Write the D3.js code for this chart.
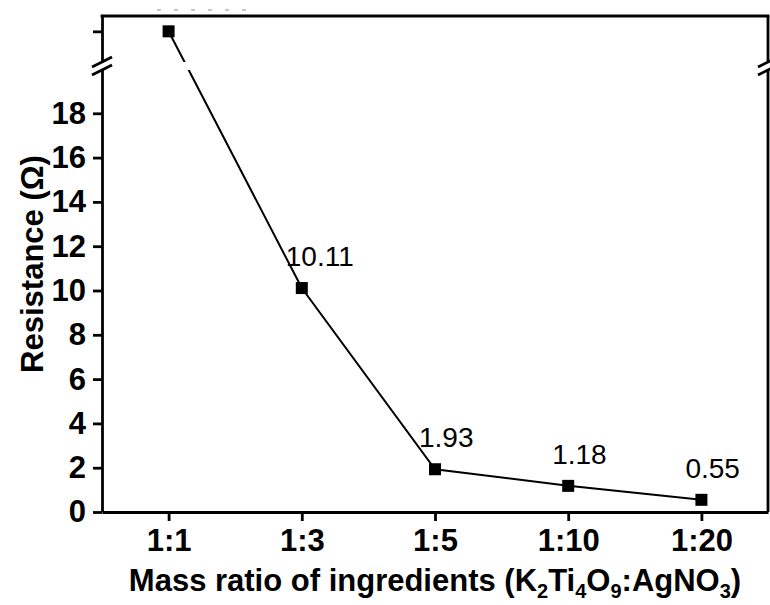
<!DOCTYPE html>
<html>
<head>
<meta charset="utf-8">
<script src="https://cdn.jsdelivr.net/npm/d3@7"></script>
<style>
  body { margin: 0; background: #fff; }
  svg { display: block; font-family: "Liberation Sans", Arial, sans-serif; }
</style>
</head>
<body>
<div id="chart"></div>
<script>
// mass ratios and measured resistance (ohm)
const ratios = ["1:1", "1:3", "1:5", "1:10", "1:20"];
const resistance = [100, 10.11, 1.93, 1.18, 0.55];   // 1:1 sits above the axis break, value not printed
const pointLabels = ["", "10.11", "1.93", "1.18", "0.55"];
const lowerTicks = [0, 2, 4, 6, 8, 10, 12, 14, 16, 18];
const upperTicks = [100];

const width = 770, height = 605;
const margin = {top: 16, right: 2, bottom: 93, left: 102};
const plotRight = width - margin.right, plotBottom = height - margin.bottom;

// broken y axis: lower part 0..20, upper part above the break
const breakLow = 69, breakHigh = 62;

const svg = d3.select("#chart").append("svg")
  .attr("width", width)
  .attr("height", height);

const x = d3.scalePoint()
  .domain(ratios)
  .range([margin.left, plotRight])
  .padding(0.5);

const yLow = d3.scaleLinear().domain([0, 20]).range([plotBottom, breakLow]);
const yUp = d3.scaleLinear().domain([80, 110]).range([breakHigh, margin.top]);
const y = v => v > 20 ? yUp(v) : yLow(v);

// faint dashes at very top (left over from the source figure)
svg.append("line")
  .attr("x1", 157).attr("x2", 247)
  .attr("y1", 10).attr("y2", 10)
  .attr("stroke", "#b5b5b5")
  .attr("stroke-width", 1.5)
  .attr("stroke-dasharray", "4,13");

// axes
const axisW = 2.8;

const gx = svg.append("g")
  .attr("transform", "translate(0," + plotBottom + ")")
  .call(d3.axisBottom(x).tickSize(9).tickSizeOuter(0).tickPadding(8));

const gyLow = svg.append("g")
  .attr("transform", "translate(" + margin.left + ",0)")
  .call(d3.axisLeft(yLow).tickValues(lowerTicks).tickSize(9).tickSizeOuter(0).tickPadding(7));

const gyUp = svg.append("g")
  .attr("transform", "translate(" + margin.left + ",0)")
  .call(d3.axisLeft(yUp).tickValues(upperTicks).tickFormat("").tickSize(9).tickSizeOuter(0));

[gx, gyLow, gyUp].forEach(g => {
  g.select(".domain").attr("stroke-width", axisW).attr("stroke", "#000");
  g.selectAll(".tick line").attr("stroke-width", axisW).attr("stroke", "#000");
  g.selectAll(".tick text")
    .attr("fill", "#000")
    .style("font-size", "31px")
    .style("font-weight", "bold");
});

// top and right frame
svg.append("line")
  .attr("x1", margin.left - axisW / 2).attr("x2", plotRight + axisW / 2)
  .attr("y1", margin.top).attr("y2", margin.top)
  .attr("stroke", "#000").attr("stroke-width", axisW);
svg.append("line")
  .attr("x1", plotRight).attr("x2", plotRight)
  .attr("y1", margin.top).attr("y2", breakHigh)
  .attr("stroke", "#000").attr("stroke-width", axisW);
svg.append("line")
  .attr("x1", plotRight).attr("x2", plotRight)
  .attr("y1", breakLow).attr("y2", plotBottom)
  .attr("stroke", "#000").attr("stroke-width", axisW);

// break marks on both sides
[margin.left, plotRight].forEach(bx => {
  [breakHigh, breakLow + 1].forEach(by => {
    svg.append("line")
      .attr("x1", bx - 10).attr("y1", by + 5)
      .attr("x2", bx + 10).attr("y2", by - 5)
      .attr("stroke", "#000").attr("stroke-width", axisW);
  });
});

// clip so the data line is interrupted across the break
const clip = svg.append("clipPath").attr("id", "brk");
clip.append("rect").attr("x", 0).attr("y", 0).attr("width", width).attr("height", breakHigh);
clip.append("rect").attr("x", 0).attr("y", breakLow + 1).attr("width", width).attr("height", height);

const data = ratios.map((r, i) => ({ratio: r, value: resistance[i], label: pointLabels[i]}));

svg.append("path")
  .datum(data)
  .attr("clip-path", "url(#brk)")
  .attr("fill", "none")
  .attr("stroke", "#000")
  .attr("stroke-width", 2)
  .attr("d", d3.line()
    .x(d => x(d.ratio))
    .y(d => y(d.value)));

const sq = 12;
svg.append("g")
  .selectAll("rect")
  .data(data)
  .enter()
  .append("rect")
    .attr("x", d => x(d.ratio) - sq / 2)
    .attr("y", d => y(d.value) - sq / 2)
    .attr("width", sq)
    .attr("height", sq)
    .attr("fill", "#000");

// value labels
svg.append("g")
  .selectAll("text")
  .data(data.filter(d => d.label))
  .enter()
  .append("text")
    .attr("x", d => x(d.ratio) - 16)
    .attr("y", d => y(d.value) - 22)
    .style("font-size", "28px")
    .attr("fill", "#000")
    .text(d => d.label);

// axis titles
svg.append("text")
  .attr("transform", "translate(43," + ((margin.top + plotBottom) / 2) + ") rotate(-90)")
  .attr("text-anchor", "middle")
  .style("font-size", "31px")
  .style("font-weight", "bold")
  .text("Resistance (\u03A9)");

const xt = svg.append("text")
  .attr("x", (margin.left + plotRight) / 2)
  .attr("y", 591)
  .attr("text-anchor", "middle")
  .style("font-size", "31px")
  .style("font-weight", "bold");
xt.append("tspan").text("Mass ratio of ingredients (K");
xt.append("tspan").attr("dy", 7).style("font-size", "20px").text("2");
xt.append("tspan").attr("dy", -7).text("Ti");
xt.append("tspan").attr("dy", 7).style("font-size", "20px").text("4");
xt.append("tspan").attr("dy", -7).text("O");
xt.append("tspan").attr("dy", 7).style("font-size", "20px").text("9");
xt.append("tspan").attr("dy", -7).text(":AgNO");
xt.append("tspan").attr("dy", 7).style("font-size", "20px").text("3");
xt.append("tspan").attr("dy", -7).text(")");
</script>
</body>
</html>
